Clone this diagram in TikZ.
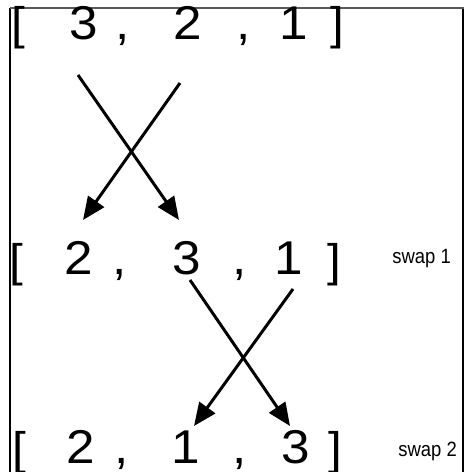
\documentclass[tikz,border=0pt]{standalone}
\usepackage{fontspec}
\setmainfont{Liberation Sans}
\usetikzlibrary{arrows.meta}

\tikzset{
    digit/.style={anchor=base, inner sep=0pt, xscale=1.08, font=\fontsize{27}{32}\selectfont},
    bracket/.style={digit, font=\fontsize{26}{32}\selectfont},
    swaplabel/.style={anchor=base west, inner sep=0pt, yscale=1.12, font=\fontsize{10.5}{12}\selectfont},
    swaparrow/.style={line width=1.7pt, -{Triangle[length=13pt, width=11pt]}}
}

\begin{document}
\begin{tikzpicture}[x=0.02cm, y=-0.02cm]
    \useasboundingbox (0,0) rectangle (464,472);
    \clip (0,0) rectangle (464,472);

    % Rahmen
    \draw[line width=1.3pt] (10,8) -- (10,480);
    \draw[line width=1.3pt] (463,8) -- (463,480);
    \draw[line width=1.4pt, black!65] (10,8) -- (464,8);

    % Zeile 1: Ausgangsliste
    \node[bracket] (r1a) at (18, 40) {[};
    \foreach \n/\x/\v in {b/84/3, c/123/{,}, d/188/2, e/244/{,}, f/294/1} {
        \node[digit] (r1\n) at (\x, 40) {\v};
    }
    \node[bracket] (r1g) at (337, 40) {]};

    % Zeile 2: nach dem ersten Tausch
    \node[bracket] (r2a) at (16, 276) {[};
    \foreach \n/\x/\v in {b/79/2, c/120/{,}, d/187/3, e/240/{,}, f/289/1} {
        \node[digit] (r2\n) at (\x, 275) {\v};
    }
    \node[bracket] (r2g) at (334, 276) {]};
    \node[swaplabel] (swap1) at (392, 263) {swap 1};

    % Zeile 3: nach dem zweiten Tausch
    \node[bracket] (r3a) at (19, 464) {[};
    \foreach \n/\x/\v in {b/81/2, c/122/{,}, d/186/1, e/240/{,}, f/296/3} {
        \node[digit] (r3\n) at (\x, 463) {\v};
    }
    \node[bracket] (r3g) at (335, 464) {]};
    \node[swaplabel] (swap2) at (398, 456) {swap 2};

    % Pfeile
    \coordinate (t1s) at (78,75);   \coordinate (t1e) at (179,220);
    \coordinate (t2s) at (180,83);  \coordinate (t2e) at (83,220);
    \coordinate (b1s) at (190,280); \coordinate (b1e) at (290,426);
    \coordinate (b2s) at (293,289); \coordinate (b2e) at (194,426);
    \draw[swaparrow] (t1s) -- (t1e);
    \draw[swaparrow] (t2s) -- (t2e);
    \draw[swaparrow] (b1s) -- (b1e);
    \draw[swaparrow] (b2s) -- (b2e);
\end{tikzpicture}
\end{document}
